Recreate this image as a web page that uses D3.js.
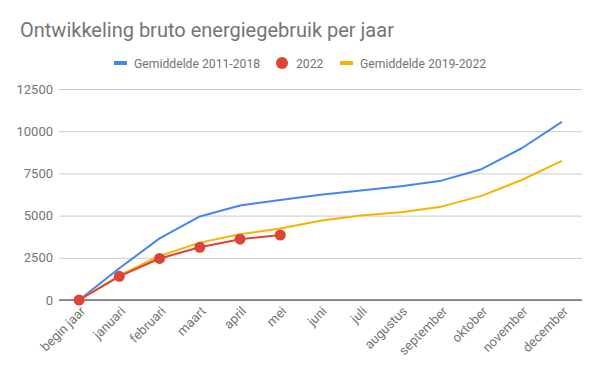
<!DOCTYPE html>
<html lang="nl">
<head>
<meta charset="UTF-8">
<title>Ontwikkeling bruto energiegebruik per jaar</title>
<script src="https://cdn.jsdelivr.net/npm/d3@7"></script>
<style>
    body { margin: 0; background: #fff; }
    svg { display: block; font-family: Roboto, 'Noto Sans', sans-serif; }
</style>
</head>
<body>
<svg id="chart" width="600" height="371"></svg>
<script>
    // data
    const months = ["begin jaar", "januari", "februari", "maart", "april", "mei", "juni",
        "juli", "augustus", "september", "oktober", "november", "december"];
    const avg20112018 = [0, 1880, 3650, 4950, 5600, 5930, 6230, 6480, 6740, 7070, 7750, 8990, 10550];
    const year2022 = [0, 1400, 2460, 3120, 3600, 3850];
    const avg20192022 = [0, 1450, 2610, 3400, 3900, 4230, 4690, 5000, 5200, 5530, 6170, 7110, 8240];
    const yTicks = [0, 2500, 5000, 7500, 10000, 12500];

    const svg = d3.select("#chart");
    const margin = { left: 59, right: 18, top: 89, bottom: 71 };
    const width = 600, height = 371;

    const x = d3.scaleBand().domain(months).range([margin.left, width - margin.right]);
    const y = d3.scaleLinear().domain([0, 12500]).range([height - margin.bottom, margin.top]);
    const cx = d => x(d) + x.bandwidth() / 2;

    // title
    svg.append("text")
        .attr("x", 20).attr("y", 37)
        .attr("font-size", 20).attr("fill", "#757575")
        .text("Ontwikkeling bruto energiegebruik per jaar");

    // legend
    const legend = svg.append("g").attr("font-size", 12.2).attr("fill", "#757575");
    legend.append("rect").attr("x", 114).attr("y", 61).attr("width", 13).attr("height", 4).attr("fill", "#4285f4");
    legend.append("text").attr("x", 134).attr("y", 67.5).text("Gemiddelde 2011-2018");
    legend.append("circle").attr("cx", 282).attr("cy", 63).attr("r", 6).attr("fill", "#db4437");
    legend.append("text").attr("x", 296).attr("y", 67.5).text("2022");
    legend.append("rect").attr("x", 340).attr("y", 61).attr("width", 13).attr("height", 4).attr("fill", "#f4b400");
    legend.append("text").attr("x", 360).attr("y", 67.5).text("Gemiddelde 2019-2022");

    // y axis + gridlines
    const yAxis = svg.append("g")
        .attr("transform", `translate(${margin.left},0)`)
        .call(d3.axisLeft(y).tickValues(yTicks).tickFormat(d3.format("d"))
            .tickSize(-(width - margin.left - margin.right)).tickPadding(6));
    yAxis.select(".domain").remove();
    yAxis.selectAll(".tick line").attr("stroke", "#cccccc");
    yAxis.selectAll(".tick text").attr("fill", "#757575").attr("font-size", 13).attr("font-family", "Roboto, sans-serif");

    // baseline
    svg.append("line")
        .attr("x1", margin.left).attr("x2", width - margin.right)
        .attr("y1", y(0)).attr("y2", y(0))
        .attr("stroke", "#333").attr("stroke-width", 1);

    // x axis labels
    const xAxis = svg.append("g")
        .attr("transform", `translate(0,${y(0)})`)
        .call(d3.axisBottom(x).tickSize(0).tickPadding(0));
    xAxis.select(".domain").remove();
    xAxis.selectAll(".tick text")
        .attr("fill", "#757575").attr("font-size", 13).attr("font-family", "Roboto, sans-serif")
        .attr("text-anchor", "end")
        .attr("dy", 0)
        .attr("transform", "translate(7,12) rotate(-45)");

    const line = d3.line().x((d, i) => cx(months[i])).y(d => y(d));

    const series = [
        { values: avg20112018, color: "#4285f4" },
        { values: avg20192022, color: "#f4b400" },
        { values: year2022, color: "#db4437" }
    ];
    svg.append("g").selectAll("path")
        .data(series)
        .join("path")
        .attr("d", d => line(d.values))
        .attr("fill", "none")
        .attr("stroke", d => d.color)
        .attr("stroke-width", 2)
        .attr("stroke-linejoin", "round");

    svg.append("g").selectAll("circle")
        .data(year2022)
        .join("circle")
        .attr("cx", (d, i) => cx(months[i]))
        .attr("cy", d => y(d))
        .attr("r", 5.5)
        .attr("fill", "#db4437");
</script>
</body>
</html>
